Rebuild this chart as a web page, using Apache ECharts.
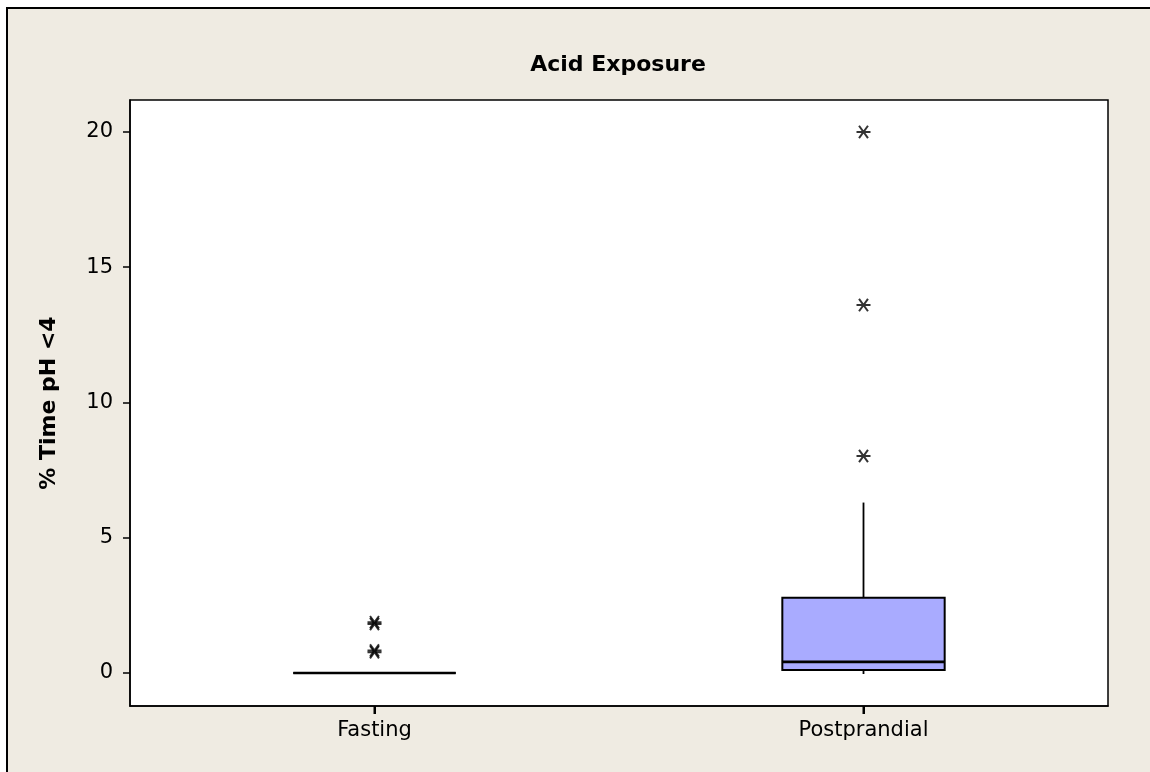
<!DOCTYPE html>
<html>
<head>
<meta charset="utf-8">
<script src="https://cdn.jsdelivr.net/npm/echarts@6/dist/echarts.min.js"></script>
<style>
  html, body { margin: 0; padding: 0; background: #ffffff; }
  #wrap { position: absolute; left: 0; top: 0; width: 1150px; height: 772px; background: #fff; overflow: hidden; }
  #chart { position: absolute; left: 6px; top: 7px; width: 1144px; height: 765px;
           border-left: 2px solid #000; border-top: 2px solid #000; background: #EFEBE2; }
</style>
</head>
<body>
<div id="wrap"><div id="chart"></div></div>
<script>
// ---- data ----
const titleText = 'Acid Exposure';
const yAxisTitle = '% Time pH <4';
const categories = ['Fasting', 'Postprandial'];
// [min, Q1, median, Q3, max] (whisker ends and box)
const fastingBox = [0, 0, 0, 0, 0];
const postprandialBox = [0, 0.11, 0.41, 2.78, 6.3];
// outliers
const fastingOutliers = [1.88, 1.81, 0.83, 0.77];
const postprandialOutliers = [8.02, 13.6, 20.0];
const yTicks = [0, 5, 10, 15, 20];
const yMin = -1.22, yMax = 21.18;

const boxData = [
  [0].concat(fastingBox),
  [1].concat(postprandialBox)
];
const outlierData = fastingOutliers.map(v => [0, v]).concat(postprandialOutliers.map(v => [1, v]));

const FONT = 'DejaVu Sans';
const chart = echarts.init(document.getElementById('chart'), null, { renderer: 'canvas' });

const asterisk = 'path://M0,5L10,5M1.8,0.6L8.2,9.4M8.2,0.6L1.8,9.4';

chart.setOption({
  animation: false,
  backgroundColor: 'transparent',
  title: {
    text: titleText,
    left: 610,
    top: 45,
    textAlign: 'center',
    padding: 0,
    textStyle: { fontFamily: FONT, fontWeight: 'bold', fontSize: 22, color: '#000' }
  },
  grid: {
    left: 122, top: 91, right: 44, bottom: 68,
    show: true, backgroundColor: '#ffffff', borderColor: '#000', borderWidth: 1.5,
    containLabel: false
  },
  xAxis: {
    type: 'category',
    position: 'bottom',
    data: categories,
    boundaryGap: true,
    axisLine: { show: true, onZero: false, lineStyle: { color: '#000', width: 1.5 } },
    axisTick: { show: true, interval: 0, alignWithLabel: true, inside: false, length: 8, lineStyle: { color: '#000', width: 2 } },
    axisLabel: { margin: 14, fontFamily: FONT, fontSize: 21, color: '#000' },
    splitLine: { show: false }
  },
  yAxis: {
    type: 'value',
    min: yMin,
    max: yMax,
    name: yAxisTitle,
    nameLocation: 'middle',
    nameGap: 70,
    nameRotate: 90,
    nameTextStyle: { fontFamily: FONT, fontWeight: 'bold', fontSize: 22, color: '#000' },
    axisLine: { show: true, onZero: false, lineStyle: { color: '#000', width: 1.5 } },
    axisTick: { show: true, length: 7, customValues: yTicks, lineStyle: { color: '#000', width: 1.5 } },
    axisLabel: { margin: 17, customValues: yTicks, fontFamily: FONT, fontSize: 21, color: '#000' },
    splitLine: { show: false }
  },
  series: [
    {
      type: 'custom',
      clip: false,
      data: boxData,
      encode: { x: 0, y: [1, 2, 3, 4, 5] },
      renderItem: function (params, api) {
        const xi = api.value(0);
        const pMin = api.coord([xi, api.value(1)]);
        const pQ1 = api.coord([xi, api.value(2)]);
        const pMed = api.coord([xi, api.value(3)]);
        const pQ3 = api.coord([xi, api.value(4)]);
        const pMax = api.coord([xi, api.value(5)]);
        const pAxis = api.coord([xi, yMin]);
        const w = api.size([1, 0])[0] * 0.332;
        const cx = pMed[0];
        const ls = { stroke: '#000', lineWidth: 1.8 };
        return {
          type: 'group',
          children: [
            { type: 'line', shape: { x1: cx, y1: pMax[1], x2: cx, y2: pQ3[1] }, style: ls },
            { type: 'line', shape: { x1: cx, y1: pQ1[1], x2: cx, y2: pMin[1] + 1 }, style: ls },
            { type: 'rect', shape: { x: cx - w / 2, y: pQ3[1], width: w, height: pQ1[1] - pQ3[1] },
              style: { fill: '#A9ABFF', stroke: '#000', lineWidth: 2 } },
            { type: 'line', shape: { x1: cx - w / 2, y1: pMed[1], x2: cx + w / 2, y2: pMed[1] },
              style: { stroke: '#000', lineWidth: 2.6 } },
            // category tick mark below the x axis
            { type: 'line', shape: { x1: cx, y1: pAxis[1], x2: cx, y2: pAxis[1] + 8 },
              style: { stroke: '#000', lineWidth: 2 } }
          ]
        };
      }
    },
    {
      type: 'scatter',
      data: outlierData,
      symbol: asterisk,
      symbolSize: [14, 14],
      symbolKeepAspect: true,
      itemStyle: { color: 'none', borderColor: '#000', borderWidth: 2 },
      z: 5
    }
  ]
});
</script>
</body>
</html>
